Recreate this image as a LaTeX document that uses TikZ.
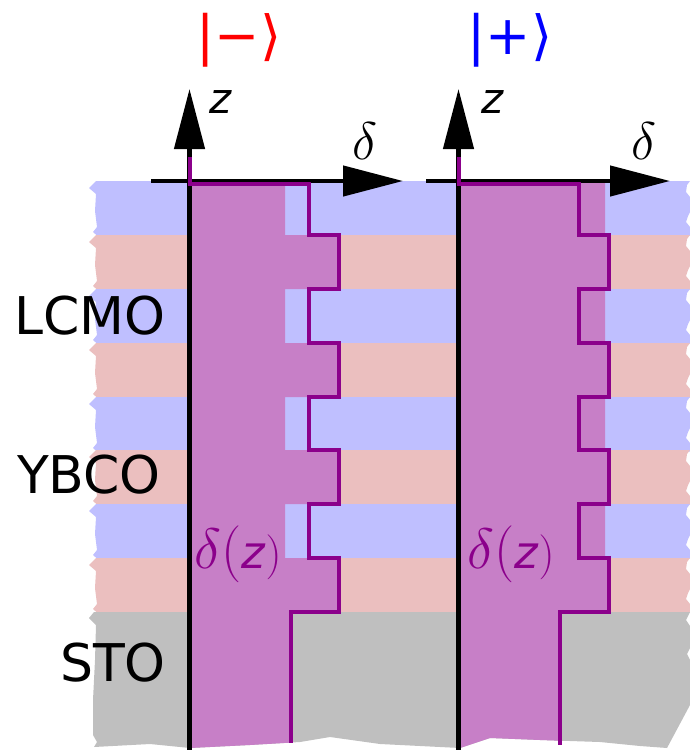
\RequirePackage{fix-cm}
\documentclass[tikz,border=0pt]{standalone}
\usepackage{fontspec}
\setmainfont{DejaVu Sans}
\usetikzlibrary{arrows.meta}

\definecolor{laybl}{RGB}{191,191,255}
\definecolor{laypk}{RGB}{235,191,191}
\definecolor{laygr}{RGB}{191,191,191}
\definecolor{proffill}{RGB}{199,127,199}
\definecolor{profline}{RGB}{139,0,139}

\begin{document}
\begin{tikzpicture}[x=1pt, y=-1pt,
        axis/.style={line width=4.5pt, -{Triangle[length=60pt, width=30pt]}},
        prof/.style={draw=profline, line width=4pt, line join=miter},
        lbl/.style={font=\fontsize{52}{60}\selectfont, anchor=base east, inner sep=0pt},
        ket/.style={font=\fontsize{54}{60}\selectfont, anchor=base, inner sep=0pt},
        zlbl/.style={font=\fontsize{42}{48}\selectfont\itshape, anchor=base west, inner sep=0pt},
        dlbl/.style={font=\fontsize{53}{60}\selectfont, anchor=base, inner sep=0pt},
        dz/.style={font=\fontsize{57}{64}\selectfont, text=profline, anchor=base west, inner sep=0pt}
    ]
        \useasboundingbox (0,0) rectangle (690,750);

        % layer stack
        \foreach \t/\col in {181/laybl, 235/laypk, 289/laybl, 343/laypk, 397/laybl, 450/laypk, 504/laybl, 558/laypk}
            \fill[\col] (96,\t) -- (89,\t+7) -- (96,\t+13) -- (95,\t+30) -- (97,\t+46) -- (93,\t+51)
                -- (97,\t+54.5) -- (690,\t+54.5) -- (690,\t+46) -- (686,\t+41) -- (688,\t+35)
                -- (690,\t+31) -- (690,\t+16) -- (686,\t+11) -- (687,\t+4) -- (690,\t) -- cycle;
        \fill[laygr] (94,612) -- (89,618) -- (96,625) -- (95,660) -- (93,700) -- (93,735) -- (97,742)
            -- (94,747) -- (150,744) -- (190,748) -- (250,745) -- (300,742) -- (330,737) -- (380,744)
            -- (420,746) -- (460,748) -- (490,738) -- (540,740) -- (600,742) -- (640,746) -- (667,748)
            -- (690,705) -- (690,660) -- (687,654) -- (690,648) -- (690,626) -- (686,620) -- (690,612) -- cycle;

        % profiles (fill)
        \fill[proffill] (190,182) -- (285,182)
            foreach \t in {235,343,450,558} { -- (285,\t) -- (339,\t) -- (339,\t+54) -- (285,\t+54) }
            -- (291,612) -- (291,742.6) -- (250,745) -- (190,748) -- cycle;
        \fill[proffill] (460,182) -- (605,182)
            foreach \t in {235,343,450,558} { -- (605,\t) -- (609,\t) -- (609,\t+54) -- (605,\t+54) }
            -- (560,612) -- (560,740.7) -- (540,740) -- (490,738) -- (460,748) -- cycle;

        % axes
        \coordinate (oL) at (189.5,750);
        \coordinate (zL) at (189.5,89);
        \coordinate (aL) at (151,181);
        \coordinate (dL) at (403,181);
        \coordinate (oR) at (458.5,750);
        \coordinate (zR) at (458.5,89);
        \coordinate (aR) at (426,181);
        \coordinate (dR) at (670,181);
        \draw[axis] (oL) -- (zL);
        \draw[axis] (aL) -- (dL);
        \draw[axis] (oR) -- (zR);
        \draw[axis] (aR) -- (dR);

        % profiles (line)
        \draw[prof] (190,157) -- (190,183.5) -- (309,183.5)
            foreach \t in {235,343,450,558} { -- (309,\t) -- (339,\t) -- (339,\t+54) -- (309,\t+54) }
            -- (291,612) -- (291,743);
        \draw[prof] (459,157) -- (459,183.5) -- (579,183.5)
            foreach \t in {235,343,450,558} { -- (579,\t) -- (608.5,\t) -- (608.5,\t+54) -- (579,\t+54) }
            -- (560,612) -- (560,745);

        % labels
        \node[ket, text=red] (ketL) at (239,54) {|−⟩};
        \node[ket, text=blue] (ketR) at (510,54) {|+⟩};
        \node[zlbl] (zlabL) at (209,113) {z};
        \node[zlbl] (zlabR) at (481,113) {z};
        \node[dlbl] (dlabL) at (365,159) {$\delta$};
        \node[dlbl] (dlabR) at (644,159) {$\delta$};
        \node[dz] (dzL) at (194,568) {$\delta($\fontsize{45}{50}\selectfont\textit{z}$)$};
        \node[dz] (dzR) at (467,568) {$\delta($\fontsize{45}{50}\selectfont\textit{z}$)$};
        \node[lbl] (lcmo) at (166,334) {LCMO};
        \node[lbl] (ybco) at (161,493) {YBCO};
        \node[lbl] (sto) at (166,681) {STO};
    \end{tikzpicture}
\end{document}
